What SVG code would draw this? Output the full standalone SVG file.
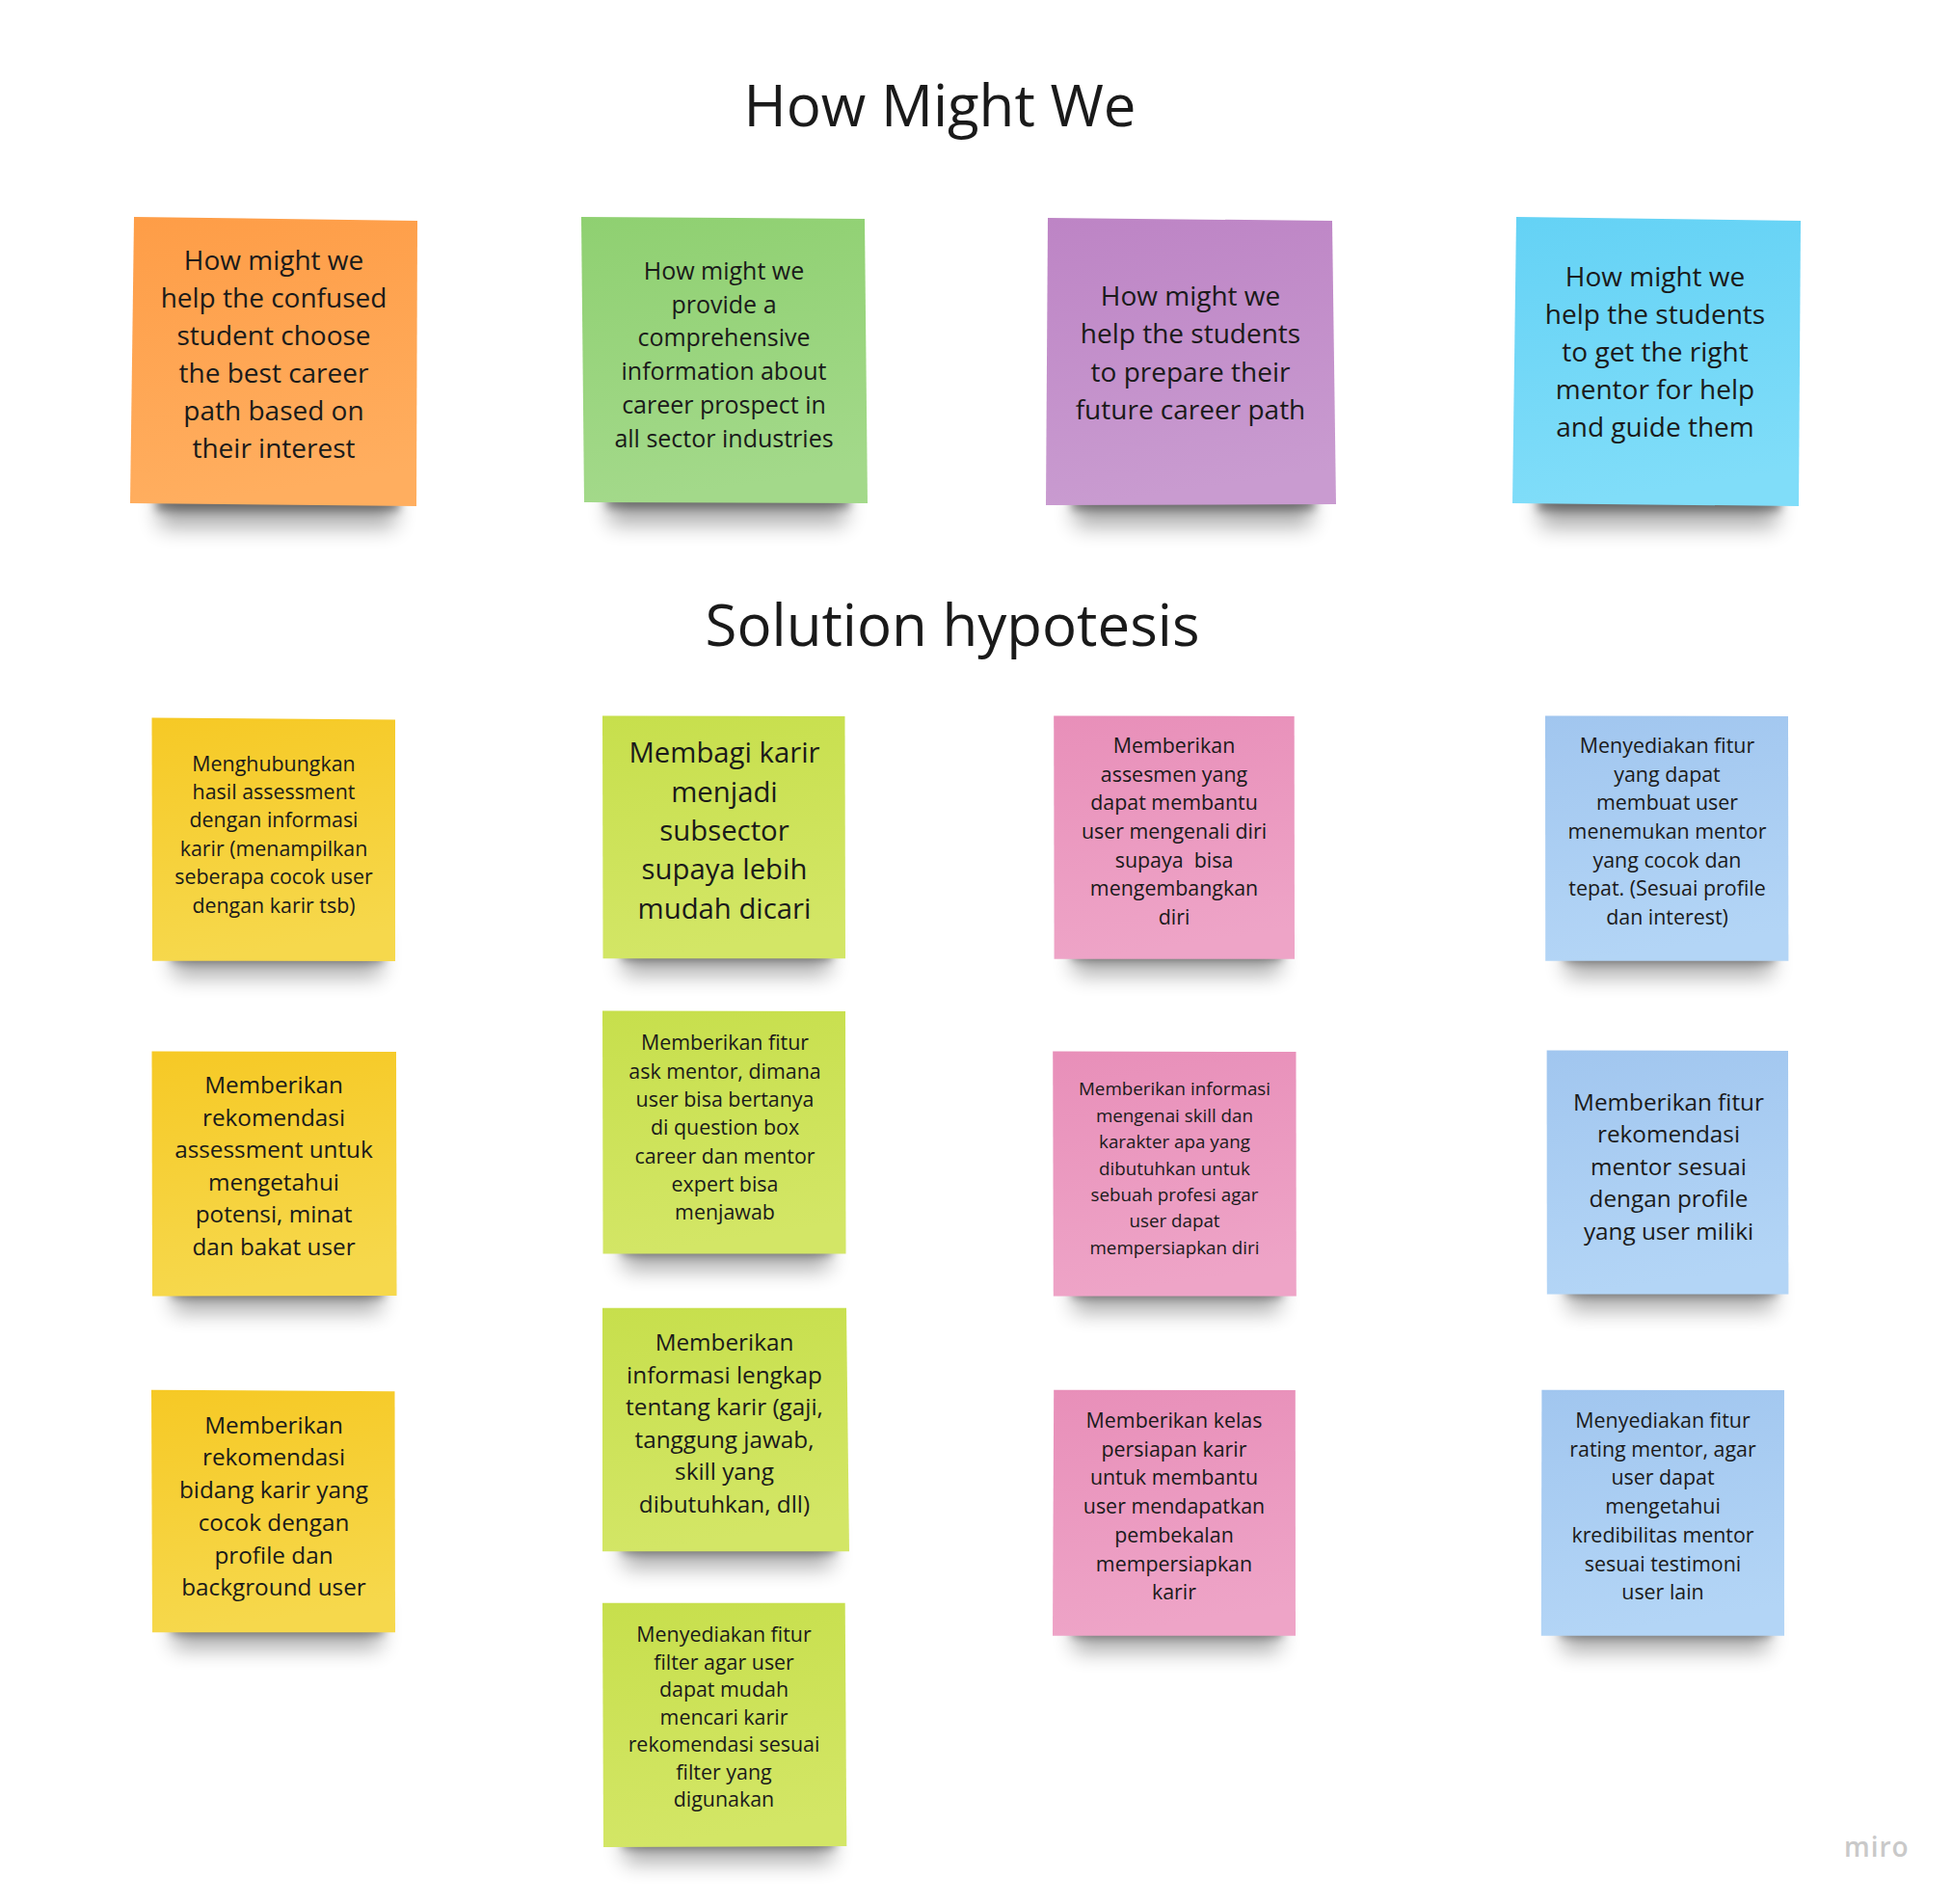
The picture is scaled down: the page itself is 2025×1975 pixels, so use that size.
<svg xmlns="http://www.w3.org/2000/svg" width="2025" height="1975" viewBox="0 0 2025 1975">
<defs>
<filter id="blur" x="-30%" y="-100%" width="160%" height="300%"><feGaussianBlur stdDeviation="11"/></filter>
<filter id="blur2" x="-30%" y="-100%" width="160%" height="300%"><feGaussianBlur stdDeviation="5"/></filter>
<linearGradient id="gOrange" x1="0" y1="0" x2="0.15" y2="1"><stop offset="0" stop-color="#fe9d47"/><stop offset="1" stop-color="#ffae5f"/></linearGradient>
<linearGradient id="gGreen" x1="0" y1="0" x2="0.15" y2="1"><stop offset="0" stop-color="#8fd071"/><stop offset="1" stop-color="#a3d98a"/></linearGradient>
<linearGradient id="gPurple" x1="0" y1="0" x2="0.15" y2="1"><stop offset="0" stop-color="#bd84c5"/><stop offset="1" stop-color="#c99bd0"/></linearGradient>
<linearGradient id="gCyan" x1="0" y1="0" x2="0.15" y2="1"><stop offset="0" stop-color="#64d2f5"/><stop offset="1" stop-color="#80ddf9"/></linearGradient>
<linearGradient id="gYellow" x1="0" y1="0" x2="0.15" y2="1"><stop offset="0" stop-color="#f6c925"/><stop offset="1" stop-color="#f6d84c"/></linearGradient>
<linearGradient id="gLime" x1="0" y1="0" x2="0.15" y2="1"><stop offset="0" stop-color="#c7df4c"/><stop offset="1" stop-color="#d3e666"/></linearGradient>
<linearGradient id="gPink" x1="0" y1="0" x2="0.15" y2="1"><stop offset="0" stop-color="#e88fb9"/><stop offset="1" stop-color="#eea4c7"/></linearGradient>
<linearGradient id="gBlue" x1="0" y1="0" x2="0.15" y2="1"><stop offset="0" stop-color="#a1c6ef"/><stop offset="1" stop-color="#b3d5f6"/></linearGradient>
</defs>
<style>
.title{font-family:"Open Sans","Noto Sans",sans-serif;font-size:60px;fill:#1a1a1a;text-anchor:middle}
.t{font-family:"Open Sans","Noto Sans",sans-serif;fill:#1a1a1a;text-anchor:middle}
.sh{fill:#000;opacity:0.32;filter:url(#blur)}
.sh2{fill:#000;opacity:0.38;filter:url(#blur2)}
.wm{font-family:"Open Sans","Noto Sans",sans-serif;font-size:28px;font-weight:600;fill:#c9c9c9;letter-spacing:1px}
</style>
<rect width="2025" height="1975" fill="#ffffff"/>

<text class="title" x="975" y="131">How Might We</text>
<text class="title" x="988" y="670">Solution hypotesis</text>

<g id="connectors"></g>

<!-- Top row -->
<g id="hmw1">
<rect class="sh" x="165" y="495" width="245" height="52"/>
<rect class="sh2" x="162" y="510" width="252" height="20"/>
<polygon points="139,225 433,229 432,525 135,522" fill="url(#gOrange)"/>
<text class="t" style="font-size:28px"><tspan x="284" y="280">How might we</tspan><tspan x="284" y="319">help the confused</tspan><tspan x="284" y="358">student choose</tspan><tspan x="284" y="397">the best career</tspan><tspan x="284" y="436">path based on</tspan><tspan x="284" y="475">their interest</tspan></text>
</g>
<g id="hmw2">
<rect class="sh" x="632" y="492" width="245" height="52"/>
<rect class="sh2" x="629" y="507" width="252" height="20"/>
<polygon points="603,225 897,227 900,522 606,521" fill="url(#gGreen)"/>
<text class="t" style="font-size:25px"><tspan x="751" y="290">How might we</tspan><tspan x="751" y="324.7">provide a</tspan><tspan x="751" y="359.4">comprehensive</tspan><tspan x="751" y="394.1">information about</tspan><tspan x="751" y="428.8">career prospect in</tspan><tspan x="751" y="463.5">all sector industries</tspan></text>
</g>
<g id="hmw3">
<rect class="sh" x="1115" y="494" width="245" height="52"/>
<rect class="sh2" x="1112" y="509" width="252" height="20"/>
<polygon points="1087,226 1382,229 1386,523 1085,524" fill="url(#gPurple)"/>
<text class="t" style="font-size:28px"><tspan x="1235" y="317">How might we</tspan><tspan x="1235" y="356.3">help the students</tspan><tspan x="1235" y="395.6">to prepare their</tspan><tspan x="1235" y="434.9">future career path</tspan></text>
</g>
<g id="hmw4">
<rect class="sh" x="1598" y="495" width="245" height="52"/>
<rect class="sh2" x="1595" y="510" width="252" height="20"/>
<polygon points="1573,225 1868,229 1866,525 1569,522" fill="url(#gCyan)"/>
<text class="t" style="font-size:28px"><tspan x="1717" y="297.3">How might we</tspan><tspan x="1717" y="336.3">help the students</tspan><tspan x="1717" y="375.3">to get the right</tspan><tspan x="1717" y="414.3">mentor for help</tspan><tspan x="1717" y="453.3">and guide them</tspan></text>
</g>

<!-- Column 1 -->
<g id="sol-c1r1">
<rect class="sh" x="180" y="965" width="215" height="48"/>
<rect class="sh2" x="178" y="980" width="220" height="18"/>
<polygon points="157.5,744.5 410,746.5 410,997 158,996.7" fill="url(#gYellow)"/>
<text class="t" style="font-size:21.4px"><tspan x="284" y="799.6">Menghubungkan</tspan><tspan x="284" y="829">hasil assessment</tspan><tspan x="284" y="858.4">dengan informasi</tspan><tspan x="284" y="887.8">karir (menampilkan</tspan><tspan x="284" y="917.2">seberapa cocok user</tspan><tspan x="284" y="946.6">dengan karir tsb)</tspan></text>
</g>
<g id="sol-c1r2">
<rect class="sh" x="180" y="1313" width="215" height="48"/>
<rect class="sh2" x="178" y="1328" width="220" height="18"/>
<polygon points="157.5,1090.6 411,1091 411.5,1344 158,1344.5" fill="url(#gYellow)"/>
<text class="t" style="font-size:24.3px"><tspan x="284" y="1134.3">Memberikan</tspan><tspan x="284" y="1167.8">rekomendasi</tspan><tspan x="284" y="1201.3">assessment untuk</tspan><tspan x="284" y="1234.8">mengetahui</tspan><tspan x="284" y="1268.3">potensi, minat</tspan><tspan x="284" y="1301.8">dan bakat user</tspan></text>
</g>
<g id="sol-c1r3">
<rect class="sh" x="180" y="1662" width="215" height="48"/>
<rect class="sh2" x="178" y="1677" width="220" height="18"/>
<polygon points="157,1441.7 409.5,1443.3 410,1693.3 158,1693.3" fill="url(#gYellow)"/>
<text class="t" style="font-size:24.3px"><tspan x="284" y="1486.7">Memberikan</tspan><tspan x="284" y="1520.4">rekomendasi</tspan><tspan x="284" y="1554.1">bidang karir yang</tspan><tspan x="284" y="1587.8">cocok dengan</tspan><tspan x="284" y="1621.5">profile dan</tspan><tspan x="284" y="1655.2">background user</tspan></text>
</g>

<!-- Column 2 -->
<g id="sol-c2r1">
<rect class="sh" x="647" y="963" width="213" height="48"/>
<rect class="sh2" x="645" y="978" width="218" height="18"/>
<polygon points="625,742.4 876.5,743 877,994.3 625.5,994.3" fill="url(#gLime)"/>
<text class="t" style="font-size:29.3px"><tspan x="751.5" y="791.4">Membagi karir</tspan><tspan x="751.5" y="831.7">menjadi</tspan><tspan x="751.5" y="872">subsector</tspan><tspan x="751.5" y="912.3">supaya lebih</tspan><tspan x="751.5" y="952.6">mudah dicari</tspan></text>
</g>
<g id="sol-c2r2">
<rect class="sh" x="647" y="1269" width="213" height="48"/>
<rect class="sh2" x="645" y="1284" width="218" height="18"/>
<polygon points="625,1048.6 877,1049 877.5,1300.4 625.5,1300.4" fill="url(#gLime)"/>
<text class="t" style="font-size:21.4px"><tspan x="752" y="1089.4">Memberikan fitur</tspan><tspan x="752" y="1118.7">ask mentor, dimana</tspan><tspan x="752" y="1148">user bisa bertanya</tspan><tspan x="752" y="1177.3">di question box</tspan><tspan x="752" y="1206.6">career dan mentor</tspan><tspan x="752" y="1235.9">expert bisa</tspan><tspan x="752" y="1265.2">menjawab</tspan></text>
</g>
<g id="sol-c2r3">
<rect class="sh" x="647" y="1578" width="216" height="48"/>
<rect class="sh2" x="645" y="1593" width="222" height="18"/>
<polygon points="625,1356.7 878,1356.7 881,1609.3 625,1609.3" fill="url(#gLime)"/>
<text class="t" style="font-size:24.3px"><tspan x="751.5" y="1401">Memberikan</tspan><tspan x="751.5" y="1434.5">informasi lengkap</tspan><tspan x="751.5" y="1468">tentang karir (gaji,</tspan><tspan x="751.5" y="1501.5">tanggung jawab,</tspan><tspan x="751.5" y="1535">skill yang</tspan><tspan x="751.5" y="1568.5">dibutuhkan, dll)</tspan></text>
</g>
<g id="sol-c2r4">
<rect class="sh" x="648" y="1884" width="215" height="48"/>
<rect class="sh2" x="646" y="1899" width="220" height="18"/>
<polygon points="625,1662.7 876.7,1662.7 878.3,1915 626,1916" fill="url(#gLime)"/>
<text class="t" style="font-size:21.4px"><tspan x="751" y="1703.3">Menyediakan fitur</tspan><tspan x="751" y="1731.8">filter agar user</tspan><tspan x="751" y="1760.3">dapat mudah</tspan><tspan x="751" y="1788.8">mencari karir</tspan><tspan x="751" y="1817.3">rekomendasi sesuai</tspan><tspan x="751" y="1845.8">filter yang</tspan><tspan x="751" y="1874.3">digunakan</tspan></text>
</g>

<!-- Column 3 -->
<g id="sol-c3r1">
<rect class="sh" x="1114" y="963" width="213" height="48"/>
<rect class="sh2" x="1112" y="978" width="218" height="18"/>
<polygon points="1093.2,742.4 1342.7,743 1343,994.7 1093.6,994.7" fill="url(#gPink)"/>
<text class="t" style="font-size:21.4px"><tspan x="1218" y="781.2">Memberikan</tspan><tspan x="1218" y="810.8">assesmen yang</tspan><tspan x="1218" y="840.4">dapat membantu</tspan><tspan x="1218" y="870">user mengenali diri</tspan><tspan x="1218" y="899.6">supaya&#160; bisa</tspan><tspan x="1218" y="929.2">mengembangkan</tspan><tspan x="1218" y="958.8">diri</tspan></text>
</g>
<g id="sol-c3r2">
<rect class="sh" x="1114" y="1313" width="213" height="48"/>
<rect class="sh2" x="1112" y="1328" width="218" height="18"/>
<polygon points="1092.2,1090.6 1344.5,1091 1344.8,1344.5 1092.8,1344.5" fill="url(#gPink)"/>
<text class="t" style="font-size:18.8px"><tspan x="1218.5" y="1136.3">Memberikan informasi</tspan><tspan x="1218.5" y="1163.7">mengenai skill dan</tspan><tspan x="1218.5" y="1191.1">karakter apa yang</tspan><tspan x="1218.5" y="1218.5">dibutuhkan untuk</tspan><tspan x="1218.5" y="1245.9">sebuah profesi agar</tspan><tspan x="1218.5" y="1273.3">user dapat</tspan><tspan x="1218.5" y="1300.7">mempersiapkan diri</tspan></text>
</g>
<g id="sol-c3r3">
<rect class="sh" x="1114" y="1665" width="213" height="48"/>
<rect class="sh2" x="1112" y="1680" width="218" height="18"/>
<polygon points="1093.2,1441.7 1343.8,1442 1344,1696.7 1092,1696.7" fill="url(#gPink)"/>
<text class="t" style="font-size:21.4px"><tspan x="1218" y="1481">Memberikan kelas</tspan><tspan x="1218" y="1510.7">persiapan karir</tspan><tspan x="1218" y="1540.4">untuk membantu</tspan><tspan x="1218" y="1570.1">user mendapatkan</tspan><tspan x="1218" y="1599.8">pembekalan</tspan><tspan x="1218" y="1629.5">mempersiapkan</tspan><tspan x="1218" y="1659.2">karir</tspan></text>
</g>

<!-- Column 4 -->
<g id="sol-c4r1">
<rect class="sh" x="1625" y="965" width="213" height="48"/>
<rect class="sh2" x="1623" y="980" width="218" height="18"/>
<polygon points="1603,742.4 1855,743 1855.4,996.7 1603.2,996.7" fill="url(#gBlue)"/>
<text class="t" style="font-size:21.4px"><tspan x="1729.5" y="781.2">Menyediakan fitur</tspan><tspan x="1729.5" y="810.8">yang dapat</tspan><tspan x="1729.5" y="840.4">membuat user</tspan><tspan x="1729.5" y="870">menemukan mentor</tspan><tspan x="1729.5" y="899.6">yang cocok dan</tspan><tspan x="1729.5" y="929.2">tepat. (Sesuai profile</tspan><tspan x="1729.5" y="958.8">dan interest)</tspan></text>
</g>
<g id="sol-c4r2">
<rect class="sh" x="1627" y="1311" width="213" height="48"/>
<rect class="sh2" x="1625" y="1326" width="218" height="18"/>
<polygon points="1604.6,1089.4 1855,1090 1855.4,1342.4 1604.8,1342.4" fill="url(#gBlue)"/>
<text class="t" style="font-size:24.3px"><tspan x="1731" y="1151.8">Memberikan fitur</tspan><tspan x="1731" y="1185.3">rekomendasi</tspan><tspan x="1731" y="1218.8">mentor sesuai</tspan><tspan x="1731" y="1252.3">dengan profile</tspan><tspan x="1731" y="1285.8">yang user miliki</tspan></text>
</g>
<g id="sol-c4r3">
<rect class="sh" x="1621" y="1665" width="213" height="48"/>
<rect class="sh2" x="1619" y="1680" width="218" height="18"/>
<polygon points="1599.4,1441.7 1851,1442 1851,1696.7 1598.8,1696.7" fill="url(#gBlue)"/>
<text class="t" style="font-size:21.4px"><tspan x="1725" y="1481">Menyediakan fitur</tspan><tspan x="1725" y="1510.7">rating mentor, agar</tspan><tspan x="1725" y="1540.4">user dapat</tspan><tspan x="1725" y="1570.1">mengetahui</tspan><tspan x="1725" y="1599.8">kredibilitas mentor</tspan><tspan x="1725" y="1629.5">sesuai testimoni</tspan><tspan x="1725" y="1659.2">user lain</tspan></text>
</g>

<text class="wm" x="1913" y="1926">miro</text>
</svg>
